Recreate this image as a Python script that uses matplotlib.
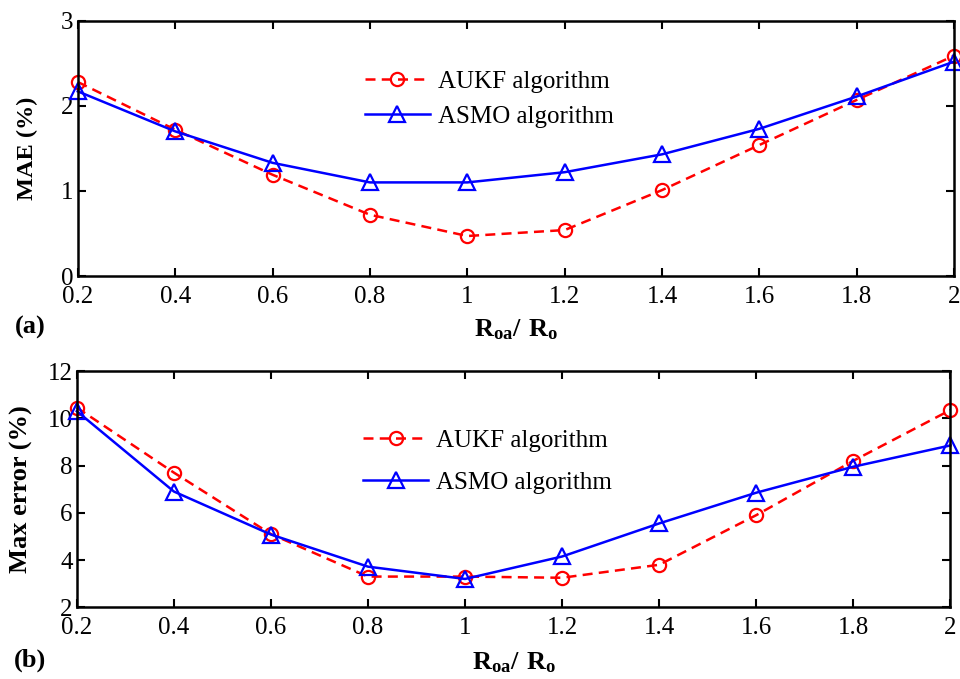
import matplotlib
matplotlib.use("Agg")
import matplotlib.pyplot as plt

ratio = [0.2, 0.4, 0.6, 0.8, 1.0, 1.2, 1.4, 1.6, 1.8, 2.0]
mae_aukf = [2.28, 1.72, 1.19, 0.72, 0.47, 0.54, 1.01, 1.54, 2.07, 2.59]
mae_asmo = [2.17, 1.70, 1.33, 1.10, 1.10, 1.22, 1.43, 1.73, 2.11, 2.52]
max_aukf = [10.45, 7.70, 5.10, 3.30, 3.30, 3.25, 3.80, 5.90, 8.20, 10.35]
max_asmo = [10.30, 6.90, 5.08, 3.72, 3.20, 4.15, 5.55, 6.85, 7.95, 8.85]
xticks = [0.2, 0.4, 0.6, 0.8, 1, 1.2, 1.4, 1.6, 1.8, 2]
xticklabels = ["0.2", "0.4", "0.6", "0.8", "1", "1.2", "1.4", "1.6", "1.8", "2"]

plt.rcParams['font.family'] = ['Liberation Serif', 'DejaVu Serif']
plt.rcParams['mathtext.fontset'] = 'custom'
plt.rcParams['mathtext.rm'] = 'Liberation Serif'
plt.rcParams['mathtext.bf'] = 'Liberation Serif:bold'

fig = plt.figure(figsize=(9.6, 6.79), dpi=100)
ax1 = fig.add_axes([0.081, 0.5935, 0.913, 0.376])
ax2 = fig.add_axes([0.080, 0.1056, 0.910, 0.348])

def style(ax, ylim, yticks, ylabel, ylsize, ylx, panel, panel_y, leg_y, leg_sp,
          xlpad):
    ax.set_xlim(0.2, 2.0)
    ax.set_ylim(*ylim)
    ax.set_yticks(yticks)
    ax.set_xticks(xticks)
    ax.set_xticklabels(xticklabels)
    ax.tick_params(direction='in', top=True, right=True, length=6, width=1.5,
                   labelsize=18)
    ax.tick_params(axis='x', pad=7)
    ax.tick_params(axis='y', pad=3)
    for s in ax.spines.values():
        s.set_linewidth(1.8)
    ax.set_ylabel(ylabel, fontsize=ylsize, fontweight='bold')
    ax.yaxis.set_label_coords(ylx, 0.5)
    ax.set_xlabel(r'$\mathbf{R_{oa}/\ R_{o}}$', fontsize=19, labelpad=xlpad)
    ax.text(-0.072, panel_y, panel, transform=ax.transAxes, fontsize=19,
            fontweight='bold', ha='left', va='center')
    ax.legend(loc='upper left', bbox_to_anchor=(0.302, leg_y), frameon=False,
              fontsize=18, handlelength=2.6, handletextpad=0.32,
              labelspacing=leg_sp)

ax1.plot(ratio, mae_aukf, 'r--o', lw=1.8, ms=9.5, mfc='none', mew=1.6,
         dashes=(4, 2.5), label='AUKF algorithm')
ax1.plot(ratio, mae_asmo, 'b-^', lw=1.8, ms=11, mfc='none', mew=1.6,
         label='ASMO algorithm')
style(ax1, (0, 3), [0, 1, 2, 3], 'MAE (%)', 17.5, -0.045, '(a)', -0.2,
      0.895, 0.5, 7)

ax2.plot(ratio, max_aukf, 'r--o', lw=1.8, ms=9.5, mfc='none', mew=1.6,
         dashes=(4, 2.5), label='AUKF algorithm')
ax2.plot(ratio, max_asmo, 'b-^', lw=1.8, ms=11, mfc='none', mew=1.6,
         label='ASMO algorithm')
style(ax2, (2, 12), [2, 4, 6, 8, 10, 12], 'Max error (%)', 19, -0.050, '(b)',
      -0.225, 0.847, 0.78, 8)

for ax in (ax1, ax2):
    for line in ax.lines:
        line.set_clip_on(False)

fig.savefig('out.png', dpi=100)
